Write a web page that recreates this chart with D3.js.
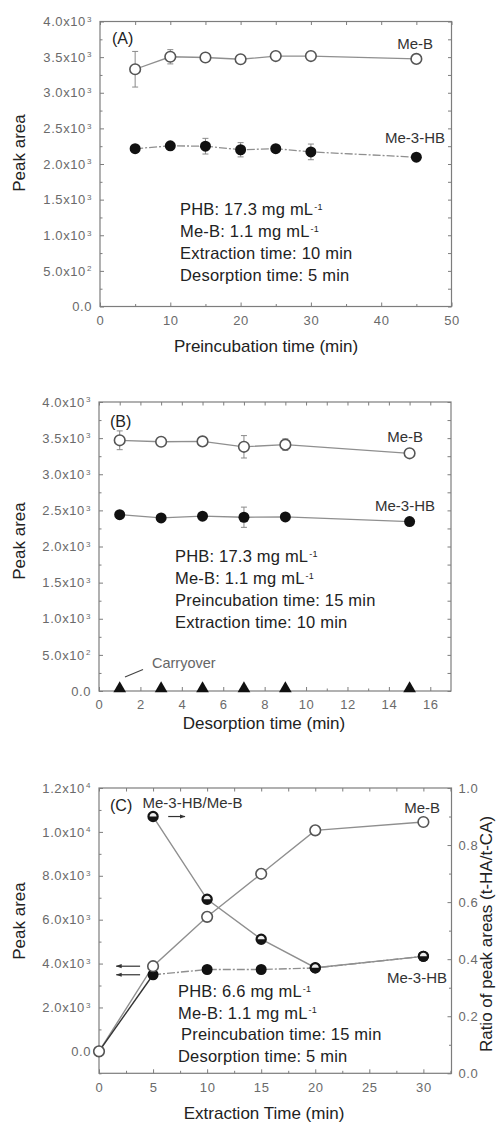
<!DOCTYPE html>
<html>
<head>
<meta charset="utf-8">
<script src="https://cdn.jsdelivr.net/npm/d3@7"></script>
<style>
  body { margin: 0; background: #fff; }
  svg { display: block; font-family: "Liberation Sans", Arial, sans-serif; }
</style>
</head>
<body>
<svg id="fig" width="503" height="1124"></svg>
<script>
// ---------- (A) preincubation time ----------
const preincTime = [5, 10, 15, 20, 25, 30, 45];
const preincMeB = [3330, 3505, 3495, 3470, 3515, 3515, 3475];
const preincMeBErr = [250, 100, 40, 30, 30, 30, 30];
const preincMe3HB = [2215, 2255, 2250, 2200, 2215, 2170, 2095];
const preincMe3HBErr = [30, 30, 110, 100, 30, 110, 30];

// ---------- (B) desorption time ----------
const desorpTime = [1, 3, 5, 7, 9, 15];
const desorpMeB = [3470, 3450, 3455, 3380, 3410, 3290];
const desorpMeBErr = [130, 40, 40, 155, 80, 30];
const desorpMe3HB = [2440, 2395, 2420, 2405, 2410, 2345];
const desorpMe3HBErr = [30, 30, 30, 140, 30, 30];
const desorpCarryover = [0, 0, 0, 0, 0, 0];

// ---------- (C) extraction time ----------
const extractTime = [0, 5, 10, 15, 20, 30];
const extractMeB = [0, 3880, 6130, 8090, 10070, 10450];
const extractMe3HB = [0, 3490, 3730, 3730, 3800, 4330];
const ratioTime = [5, 10, 15, 20, 30];
const extractRatio = [0.90, 0.61, 0.47, 0.37, 0.41];

// ---------- tick values and labels ----------
const areaTicks = [0, 500, 1000, 1500, 2000, 2500, 3000, 3500, 4000];
const areaTickLabels = ["0.0", "5.0x10^2", "1.0x10^3", "1.5x10^3", "2.0x10^3", "2.5x10^3", "3.0x10^3", "3.5x10^3", "4.0x10^3"];
const preincTicks = [0, 10, 20, 30, 40, 50];
const preincTickLabels = ["0", "10", "20", "30", "40", "50"];
const desorpTicks = [0, 2, 4, 6, 8, 10, 12, 14, 16];
const desorpTickLabels = ["0", "2", "4", "6", "8", "10", "12", "14", "16"];
const extractTicks = [0, 5, 10, 15, 20, 25, 30];
const extractTickLabels = ["0", "5", "10", "15", "20", "25", "30"];
const extractAreaTicks = [0, 2000, 4000, 6000, 8000, 10000, 12000];
const extractAreaTickLabels = ["0.0", "2.0x10^3", "4.0x10^3", "6.0x10^3", "8.0x10^3", "1.0x10^4", "1.2x10^4"];
const ratioTicks = [0, 0.2, 0.4, 0.6, 0.8, 1.0];
const ratioTickLabels = ["0.0", "0.2", "0.4", "0.6", "0.8", "1.0"];

// ---------- condition notes ----------
const notesA = ["PHB: 17.3 mg mL^-1", "Me-B: 1.1 mg mL^-1", "Extraction time: 10 min", "Desorption time: 5 min"];
const notesB = ["PHB: 17.3 mg mL^-1", "Me-B: 1.1 mg mL^-1", "Preincubation time: 15 min", "Extraction time: 10 min"];
const notesC = ["PHB: 6.6 mg mL^-1", "Me-B: 1.1 mg mL^-1", "Preincubation time: 15 min", "Desorption time: 5 min"];

const FRAME = "#7d7d7d", LINE = "#8f8f8f", TICKTXT = "#6a6a6a", INK = "#222";
const svg = d3.select("#fig");

svg.append("defs").append("marker")
  .attr("id", "head").attr("viewBox", "0 0 10 10").attr("refX", 9).attr("refY", 5)
  .attr("markerWidth", 5).attr("markerHeight", 5).attr("orient", "auto-start-reverse")
  .append("path").attr("d", "M0,1.5 L10,5 L0,8.5 Z").attr("fill", "#333");

// write "a^b" strings as text with a raised superscript
function supText(sel, str, supSize, lift) {
  const parts = str.split("^");
  sel.text(null);
  sel.append("tspan").text(parts[0]);
  if (parts.length > 1) {
    sel.append("tspan").attr("dx", 1).attr("dy", lift || "-0.5em").attr("font-size", supSize).text(parts[1]);
  }
}

function styleAxis(g, showText) {
  g.select(".domain").remove();
  g.selectAll(".tick line").attr("stroke", FRAME).attr("stroke-width", 1);
  g.selectAll(".tick text").attr("fill", TICKTXT).attr("font-size", 13)
    .attr("letter-spacing", 0.6)
    .attr("font-family", "\"Liberation Sans\", Arial, sans-serif");
  if (showText) {
    g.selectAll(".tick text").each(function () {
      const s = d3.select(this);
      const t = s.text();
      if (t.includes("^")) supText(s, t, 8, "-0.55em");
    });
  }
}

function frameAndAxes(cfg) {
  const g = svg.append("g");
  const [x0, x1] = cfg.x.range();
  const [yb, yt] = cfg.y.range();

  g.append("rect").attr("x", x0).attr("y", yt).attr("width", x1 - x0).attr("height", yb - yt)
    .attr("fill", "none").attr("stroke", FRAME).attr("stroke-width", 1.2);

  const fmt = (labels) => (d, i) => labels[i];

  // bottom
  g.append("g").attr("transform", `translate(0,${yb})`)
    .call(d3.axisBottom(cfg.x).tickValues(cfg.xTicks).tickFormat(fmt(cfg.xLabels)).tickSizeInner(-4).tickSizeOuter(0).tickPadding(9))
    .call(a => styleAxis(a, true));
  g.append("g").attr("transform", `translate(0,${yb})`)
    .call(d3.axisBottom(cfg.x).tickValues(cfg.xMinor).tickFormat("").tickSizeInner(-2.5).tickSizeOuter(0))
    .call(a => styleAxis(a, false));
  // top
  g.append("g").attr("transform", `translate(0,${yt})`)
    .call(d3.axisTop(cfg.x).tickValues(cfg.xTicks.concat(cfg.xMinor)).tickFormat("").tickSizeInner(-3.5).tickSizeOuter(0))
    .call(a => styleAxis(a, false));
  // left
  g.append("g").attr("transform", `translate(${x0},0)`)
    .call(d3.axisLeft(cfg.y).tickValues(cfg.yTicks).tickFormat(fmt(cfg.yLabels)).tickSizeInner(-4).tickSizeOuter(0).tickPadding(8))
    .call(a => styleAxis(a, true));
  g.append("g").attr("transform", `translate(${x0},0)`)
    .call(d3.axisLeft(cfg.y).tickValues(cfg.yMinor).tickFormat("").tickSizeInner(-2.5).tickSizeOuter(0))
    .call(a => styleAxis(a, false));
  // right
  if (cfg.r) {
    g.append("g").attr("transform", `translate(${x1},0)`)
      .call(d3.axisRight(cfg.r).tickValues(cfg.rTicks).tickFormat(fmt(cfg.rLabels)).tickSizeInner(-4).tickSizeOuter(0).tickPadding(7))
      .call(a => styleAxis(a, true));
    g.append("g").attr("transform", `translate(${x1},0)`)
      .call(d3.axisRight(cfg.r).tickValues(cfg.rMinor).tickFormat("").tickSizeInner(-2.5).tickSizeOuter(0))
      .call(a => styleAxis(a, false));
  } else {
    g.append("g").attr("transform", `translate(${x1},0)`)
      .call(d3.axisRight(cfg.y).tickValues(cfg.yTicks.concat(cfg.yMinor)).tickFormat("").tickSizeInner(-3.5).tickSizeOuter(0))
      .call(a => styleAxis(a, false));
  }
  return g;
}

function seriesLine(g, x, y, xs, ys, opts = {}) {
  const line = d3.line().x(d => x(d[0])).y(d => y(d[1]));
  g.append("path").attr("d", line(d3.zip(xs, ys)))
    .attr("fill", "none").attr("stroke", opts.color || LINE)
    .attr("stroke-width", opts.width || 1.3)
    .attr("stroke-dasharray", opts.dash || null);
}

function errorBars(g, x, y, xs, ys, es) {
  const data = d3.zip(xs, ys, es);
  const eb = g.append("g").attr("stroke", "#8a8a8a").attr("stroke-width", 1);
  eb.selectAll("line.v").data(data).join("line")
    .attr("x1", d => x(d[0])).attr("x2", d => x(d[0]))
    .attr("y1", d => y(d[1] - d[2])).attr("y2", d => y(d[1] + d[2]));
  eb.selectAll("line.t").data(data).join("line")
    .attr("x1", d => x(d[0]) - 3).attr("x2", d => x(d[0]) + 3)
    .attr("y1", d => y(d[1] + d[2])).attr("y2", d => y(d[1] + d[2]));
  eb.selectAll("line.b").data(data).join("line")
    .attr("x1", d => x(d[0]) - 3).attr("x2", d => x(d[0]) + 3)
    .attr("y1", d => y(d[1] - d[2])).attr("y2", d => y(d[1] - d[2]));
}

function openDots(g, x, y, xs, ys) {
  g.append("g").selectAll("circle").data(d3.zip(xs, ys)).join("circle")
    .attr("cx", d => x(d[0])).attr("cy", d => y(d[1])).attr("r", 5.3)
    .attr("fill", "#fff").attr("stroke", "#555").attr("stroke-width", 1.6);
}

function solidDots(g, x, y, xs, ys) {
  g.append("g").selectAll("circle").data(d3.zip(xs, ys)).join("circle")
    .attr("cx", d => x(d[0])).attr("cy", d => y(d[1])).attr("r", 5.5)
    .attr("fill", "#111");
}

function txt(g, x, y, str, o = {}) {
  const t = g.append("text").attr("x", x).attr("y", y)
    .attr("font-size", o.size || 16).attr("fill", o.color || INK)
    .attr("letter-spacing", o.spacing || 0)
    .attr("text-anchor", o.anchor || "start");
  supText(t, str, o.supSize || 9, "-0.6em");
  return t;
}

function notes(g, x, y0, step, lines, indents) {
  lines.forEach((s, i) => txt(g, x + (indents ? indents[i] : 0), y0 + i * step, s, { size: 16.5, spacing: 0.2 }));
}

function yTitle(x, y, str) {
  svg.append("text").attr("transform", `translate(${x},${y}) rotate(-90)`)
    .attr("text-anchor", "middle").attr("font-size", 17).attr("fill", INK).text(str);
}

function xTitle(x, y, str) {
  svg.append("text").attr("x", x).attr("y", y)
    .attr("text-anchor", "middle").attr("font-size", 17).attr("fill", INK).text(str);
}

// ================= Panel A =================
{
  const x = d3.scaleLinear().domain([0, 50]).range([100, 451.5]);
  const y = d3.scaleLinear().domain([0, 4000]).range([306.5, 21.5]);
  const g = frameAndAxes({
    x, y, xTicks: preincTicks, xLabels: preincTickLabels, xMinor: d3.range(5, 50, 10),
    yTicks: areaTicks, yLabels: areaTickLabels, yMinor: d3.range(250, 4000, 500)
  });
  seriesLine(g, x, y, preincTime, preincMeB);
  seriesLine(g, x, y, preincTime, preincMe3HB, { dash: "8,2,2,2" });
  errorBars(g, x, y, preincTime, preincMeB, preincMeBErr);
  errorBars(g, x, y, preincTime, preincMe3HB, preincMe3HBErr);
  openDots(g, x, y, preincTime, preincMeB);
  solidDots(g, x, y, preincTime, preincMe3HB);

  txt(g, 112, 44, "(A)");
  txt(g, 433, 49, "Me-B", { size: 15, anchor: "end", color: "#333" });
  txt(g, 445, 143, "Me-3-HB", { size: 15, anchor: "end", color: "#333" });
  notes(g, 180, 215, 22, notesA);

  yTitle(25, 153, "Peak area");
  xTitle(266, 352, "Preincubation time (min)");
}

// ================= Panel B =================
{
  const x = d3.scaleLinear().domain([0, 17]).range([99, 451]);
  const y = d3.scaleLinear().domain([0, 4000]).range([691, 402]);
  const g = frameAndAxes({
    x, y, xTicks: desorpTicks, xLabels: desorpTickLabels, xMinor: d3.range(1, 17, 2),
    yTicks: areaTicks, yLabels: areaTickLabels, yMinor: d3.range(250, 4000, 500)
  });
  seriesLine(g, x, y, desorpTime, desorpMeB);
  seriesLine(g, x, y, desorpTime, desorpMe3HB);
  errorBars(g, x, y, desorpTime, desorpMeB, desorpMeBErr);
  errorBars(g, x, y, desorpTime, desorpMe3HB, desorpMe3HBErr);
  openDots(g, x, y, desorpTime, desorpMeB);
  solidDots(g, x, y, desorpTime, desorpMe3HB);

  const tri = d3.symbol().type(d3.symbolTriangle).size(70);
  g.append("g").selectAll("path").data(d3.zip(desorpTime, desorpCarryover)).join("path")
    .attr("transform", d => `translate(${x(d[0])},${y(d[1]) - 2.5})`)
    .attr("d", tri).attr("fill", "#111");

  txt(g, 110, 427, "(B)");
  txt(g, 423, 442, "Me-B", { size: 15, anchor: "end", color: "#333" });
  txt(g, 435, 511, "Me-3-HB", { size: 15, anchor: "end", color: "#333" });
  notes(g, 175, 562, 22, notesB);

  txt(g, 152, 668, "Carryover", { size: 14.5, color: "#666" });
  g.append("line").attr("x1", 125).attr("y1", 677).attr("x2", 143).attr("y2", 669.5)
    .attr("stroke", "#444").attr("stroke-width", 1.2);

  yTitle(25, 541, "Peak area");
  xTitle(264, 729, "Desorption time (min)");
}

// ================= Panel C =================
{
  const x = d3.scaleLinear().domain([0, 32.6]).range([99, 451.5]);
  const y = d3.scaleLinear().domain([-1000, 12000]).range([1073.3, 788]);
  const r = d3.scaleLinear().domain([0, 1]).range([1073.3, 788]);
  const g = frameAndAxes({
    x, y, xTicks: extractTicks, xLabels: extractTickLabels, xMinor: d3.range(2.5, 32.6, 5),
    yTicks: extractAreaTicks, yLabels: extractAreaTickLabels, yMinor: d3.range(-1000, 12000, 2000),
    r, rTicks: ratioTicks, rLabels: ratioTickLabels, rMinor: [0.1, 0.3, 0.5, 0.7, 0.9]
  });

  seriesLine(g, x, y, extractTime, extractMeB, { width: 1.4 });
  seriesLine(g, x, y, extractTime.slice(0, 2), extractMe3HB.slice(0, 2), { color: "#333", width: 1.4 });
  seriesLine(g, x, y, extractTime.slice(1), extractMe3HB.slice(1), { dash: "8,2,2,2", width: 1.4 });
  seriesLine(g, x, r, ratioTime, extractRatio, { width: 1.4 });

  solidDots(g, x, y, extractTime, extractMe3HB);
  // ratio markers: dark ring with a dark lower half
  const rg = g.append("g").selectAll("g").data(d3.zip(ratioTime, extractRatio)).join("g")
    .attr("transform", d => `translate(${x(d[0])},${r(d[1])})`);
  rg.append("circle").attr("r", 4.6).attr("fill", "#eee").attr("stroke", "#151515").attr("stroke-width", 2.2);
  rg.append("path").attr("d", "M-4.6,0 A4.6,4.6 0 0 0 4.6,0 Z").attr("fill", "#151515");
  openDots(g, x, y, extractTime, extractMeB);

  // arrows pointing to the axis each series belongs to
  const arrow = (x1, y1, x2, y2) => g.append("line")
    .attr("x1", x1).attr("y1", y1).attr("x2", x2).attr("y2", y2)
    .attr("stroke", "#333").attr("stroke-width", 1.2).attr("marker-end", "url(#head)");
  arrow(x(3.8), y(extractMeB[1]), x(1.6), y(extractMeB[1]));
  arrow(x(3.8), y(extractMe3HB[1]), x(1.6), y(extractMe3HB[1]));
  arrow(x(6.4), r(extractRatio[0]), x(7.95), r(extractRatio[0]));

  txt(g, 110, 811, "(C)");
  txt(g, 142.5, 808, "Me-3-HB/Me-B", { size: 15, color: "#333" });
  txt(g, 440, 813, "Me-B", { size: 15, anchor: "end", color: "#333" });
  txt(g, 447, 983, "Me-3-HB", { size: 15, anchor: "end", color: "#333" });
  notes(g, 178, 997, 21.6, notesC, [0, 0, 3, 0]);

  yTitle(25, 921, "Peak area");
  yTitle(492, 934, "Ratio of peak areas (t-HA/t-CA)");
  xTitle(264, 1119, "Extraction Time (min)");
}
</script>
</body>
</html>
